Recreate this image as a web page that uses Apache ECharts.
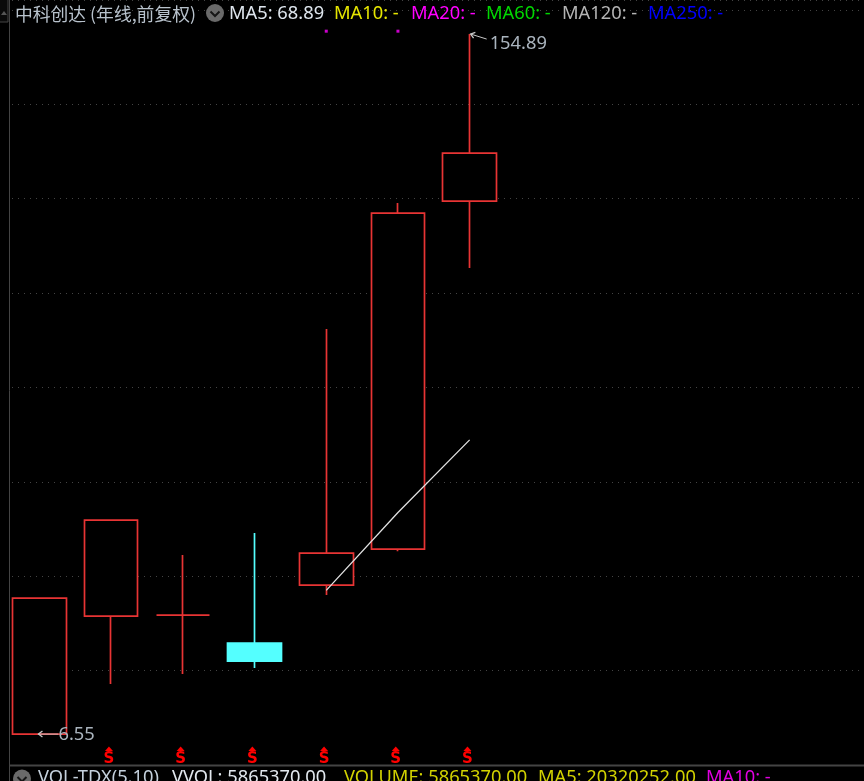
<!DOCTYPE html>
<html><head><meta charset="utf-8">
<style>html,body{margin:0;padding:0;background:#000}#c{width:864px;height:781px}</style>
<script src="https://cdn.jsdelivr.net/npm/echarts@6/dist/echarts.min.js"></script>
</head><body><div id="c"></div>
<script>
const categories = ['1','2','3','4','5','6','7','8','9','10','11','12'];
const openValues  = [6.55, 31.56, 31.77, 25.83, 38.1, 45.75, 119.5];
const closeValues = [35.37, 51.9, 31.77, 22.02, 44.9, 116.95, 129.67];
const lowValues   = [6.55, 17.15, 19.26, 20.54, 36.0, 45.3, 105.3];
const highValues  = [35.37, 51.9, 44.48, 49.14, 92.4, 119.07, 154.89];
const ma5Values   = [null, null, null, null, 37.0, 53.5, 68.89];
const signalCategories = ['2','3','4','5','6','7'];
const signalLevel = 1.7;
const dotCategories = ['5','6'];
const dotLevel = 155.5;
const topLegend = [
  ['MA5: 68.89', 229, '#dfe6ee'], ['MA10: -', 334, '#e6e600'], ['MA20: -', 411, '#ff00ff'],
  ['MA60: -', 486, '#00d800'], ['MA120: -', 562, '#b4b4b4'], ['MA250: -', 648, '#0000ff']
];
const bottomLegend = [
  ['VOL-TDX(5,10)', 38, '#c4d0dc'], ['VVOL: 5865370.00', 172, '#e2e8ee'], ['VOLUME: 5865370.00', 344, '#d2d200'],
  ['MA5: 20320252.00', 538, '#d2d200'], ['MA10: -', 706, '#e000e0']
];
const FONT = '"Noto Sans","Noto Sans CJK SC",sans-serif';
const chart = echarts.init(document.getElementById('c'), null, {renderer:'canvas'});

function legendText(item, y){
  return {type:'text', x:item[1], y:y, z:50, style:{text:item[0], fill:item[2], font:'18.3px '+FONT, textVerticalAlign:'middle'}};
}
function chevron(cx, cy){
  return [
    {type:'circle', z:50, shape:{cx:cx, cy:cy, r:9}, style:{fill:'#6a6a6a'}},
    {type:'polyline', z:51, shape:{points:[[cx-4.5,cy-1.5],[cx,cy+3],[cx+4.5,cy-1.5]]}, style:{stroke:'#161616', lineWidth:2, fill:null}}
  ];
}
const graphics = [
  {type:'line', z:40, shape:{x1:9.5,y1:0,x2:9.5,y2:781}, style:{stroke:'#444', lineWidth:1}},
  {type:'line', z:40, shape:{x1:10,y1:765.5,x2:864,y2:765.5}, style:{stroke:'#444', lineWidth:2}},
  {type:'rect', z:40, shape:{x:-2,y:-2,width:10,height:24}, style:{fill:'#0a0a0a', stroke:'#444', lineWidth:1}},
  {type:'polygon', z:41, shape:{points:[[1,15],[7,15],[4,11]]}, style:{fill:'#555'}},
  {type:'text', x:15, y:14, z:50, style:{text:'中科创达 (年线,前复权)', fill:'#b8c2cc', font:'17.8px "Noto Sans CJK SC",sans-serif', textVerticalAlign:'middle'}},
  ...chevron(215,13), ...chevron(22,778.5)
].concat(topLegend.map(i=>legendText(i,13.5)), bottomLegend.map(i=>legendText(i,778)));

const candleData = openValues.map((o,i)=>[o, closeValues[i], lowValues[i], highValues[i]]);

chart.setOption({
  animation:false,
  backgroundColor:'#000',
  graphic:graphics,
  grid:[
    {left:3.6, width:861.6, top:0.5, height:764.5},
    {left:12, right:0, top:0.5, height:764.5}
  ],
  xAxis:[
    {type:'category', gridIndex:0, data:categories, boundaryGap:true, show:false},
    {type:'category', gridIndex:1, data:categories, show:false}
  ],
  yAxis:[
    {type:'value', gridIndex:0, min:0, max:162, interval:20, axisLine:{show:false}, axisTick:{show:false}, axisLabel:{show:false}, splitLine:{show:false}},
    {type:'value', gridIndex:1, min:0, max:162, interval:20, axisLine:{show:false}, axisTick:{show:false}, axisLabel:{show:false},
     splitLine:{show:true, lineStyle:{color:'#444', width:1, type:[1,5]}}}
  ],
  series:[
    {type:'candlestick', xAxisIndex:0, yAxisIndex:0, z:5, barWidth:54, data:candleData,
     itemStyle:{color:'#000', color0:'#54ffff', borderColor:'#e83434', borderColor0:'#54ffff', borderColorDoji:'#e83434', borderWidth:1.7}},
    {type:'line', xAxisIndex:0, yAxisIndex:0, z:6, data:ma5Values, symbol:'none', connectNulls:false,
     lineStyle:{color:'#e0e0e0', width:1.3}},
    {type:'scatter', xAxisIndex:0, yAxisIndex:0, z:6, symbol:'rect', symbolSize:3, itemStyle:{color:'#ff00ff'},
     data:dotCategories.map(c=>[c,dotLevel])},
    {type:'custom', xAxisIndex:0, yAxisIndex:0, z:7, silent:true,
     data:signalCategories.map(c=>[c,signalLevel]),
     renderItem:function(params,api){
       const p=api.coord([api.value(0),api.value(1)]);
       const x=p[0]-2.2, y=p[1];
       return {type:'group',children:[
         {type:'polygon',shape:{points:[[x-4,y-6],[x+4,y-6],[x,y-10.5]]},style:{fill:'#ff0000'}},
         {type:'text',x:x,y:y+2.5,style:{text:'S',fill:'#ff0000',font:'bold 15px "DejaVu Sans",sans-serif',textAlign:'center',textVerticalAlign:'middle'}}
       ]};
     }, encode:{x:0,y:1}},
    {type:'custom', xAxisIndex:0, yAxisIndex:0, z:8, silent:true,
     data:[[categories[0],lowValues[0],20,0,0,1,-1],[categories[6],highValues[6],16,5,3,5,1]],
     renderItem:function(params,api){
       const p=api.coord([api.value(0),api.value(1)]);
       const dx=api.value(2), dy=api.value(3), gap=api.value(4), tdy=api.value(5), x=p[0]+api.value(6), y=p[1];
       const lbl = params.dataIndex===0 ? lowValues[0].toFixed(2) : highValues[6].toFixed(2);
       const ex=x+dx, ey=y+dy;
       const a=Math.atan2(dy,dx), c=Math.cos(a), s=Math.sin(a);
       return {type:'group',children:[
         {type:'line',shape:{x1:x,y1:y,x2:ex,y2:ey},style:{stroke:'#c8c8c8',lineWidth:1}},
         {type:'polyline',shape:{points:[[x+4*c-3*s,y+4*s+3*c],[x,y],[x+4*c+3*s,y+4*s-3*c]]},style:{stroke:'#c8c8c8',lineWidth:1.3,fill:null}},
         {type:'text',x:ex+gap,y:ey+tdy,style:{text:lbl,fill:'#aab4be',font:'18.3px '+FONT,textVerticalAlign:'middle'}}
       ]};
     }, encode:{x:0,y:1}}
  ]
});
</script></body></html>
